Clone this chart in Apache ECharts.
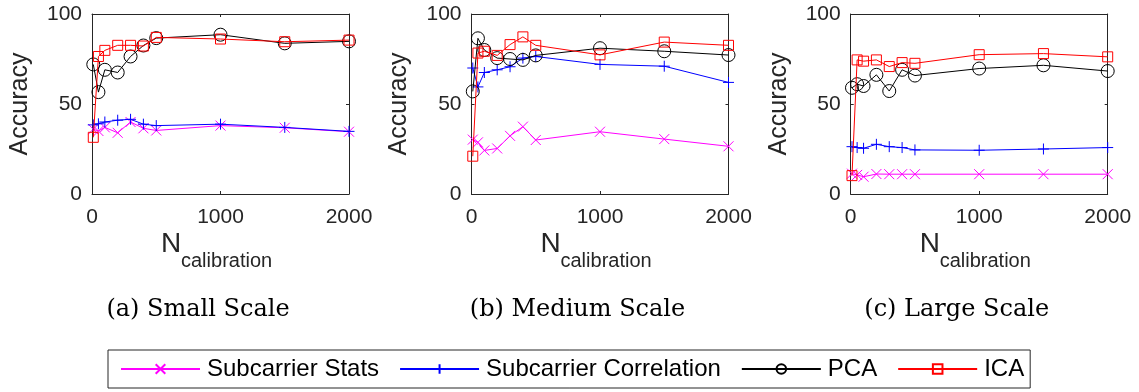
<!DOCTYPE html>
<html>
<head>
<meta charset="utf-8">
<script src="https://cdn.jsdelivr.net/npm/echarts@6/dist/echarts.min.js"></script>
<style>
html,body{margin:0;padding:0;background:#fff;}
#chart{width:1139px;height:392px;}
</style>
</head>
<body>
<div id="chart"></div>
<script>
// ---- data ----
const xValues = [10, 50, 100, 200, 300, 400, 500, 1000, 1500, 2000];
const xTicks = [0, 1000, 2000];
const yTicks = [0, 50, 100];
const seriesNames = ['Subcarrier Stats', 'Subcarrier Correlation', 'PCA', 'ICA'];
const captions = ['(a) Small Scale', '(b) Medium Scale', '(c) Large Scale'];

const smallStats = [36, 35, 37, 34, 40, 36.5, 35.3, 38, 36.8, 34.6];
const smallCorr  = [38.4, 39, 40, 41, 41.5, 38.8, 38, 38.8, 37, 34.8];
const smallPCA   = [72, 56.6, 69, 67.5, 76.4, 82.5, 86.6, 88.5, 83.7, 84.8];
const smallICA   = [31.5, 76.4, 79.8, 82.6, 82.6, 82.2, 87, 86.1, 84.6, 85.5];

const mediumStats = [30.2, 28.7, 24.2, 25.3, 32.3, 37.4, 30, 34.6, 30.5, 26.5];
const mediumCorr  = [70, 59.5, 67.5, 69, 70.7, 75.5, 76.4, 72, 71, 62];
const mediumPCA   = [57, 86.5, 80, 75.5, 75, 74.5, 77, 81, 79.3, 77.2];
const mediumICA   = [21, 78.3, 79.3, 77, 83, 87.3, 82.6, 77.3, 84.4, 82.6];

const largeStats = [11.3, 10.6, 9.6, 11.1, 11, 11, 11, 11, 11, 11];
const largeCorr  = [26.3, 25.8, 25.4, 27.6, 26.3, 25.8, 24.5, 24.3, 25, 25.8];
const largePCA   = [59, 61, 60, 66.2, 57.2, 69, 65.8, 69.7, 71.5, 68.3];
const largeICA   = [10.2, 74.5, 73.8, 74.5, 70.8, 73, 72.6, 77.4, 78, 76.2];

const panels = [
  [smallStats, smallCorr, smallPCA, smallICA],
  [mediumStats, mediumCorr, mediumPCA, mediumICA],
  [largeStats, largeCorr, largePCA, largeICA]
];

// ---- styling ----
const AX = '#262626';
const SANS = '"Liberation Sans", Arial, Helvetica, sans-serif';
const SERIF = '"DejaVu Serif", serif';
const gridLefts = [92, 471.5, 850.7];
const gridTop = 14, gridW = 257, gridH = 180;

const styles = [
  {color: '#FF00FF', symbol: 'path://M0,0L10,10M10,0L0,10', size: 10},
  {color: '#0000FF', symbol: 'path://M5,0L5,10M0,5L10,5', size: 11},
  {color: '#000000', symbol: 'circle', size: 13},
  {color: '#FF0000', symbol: 'rect', size: 10}
];

const grids = [], xAxes = [], yAxes = [], series = [], graphics = [];

function pairs(ys) { return xValues.map((x, i) => [x, ys[i]]); }
function plain(v) { return String(v); }

gridLefts.forEach((left, gi) => {
  grids.push({left: left, top: gridTop, width: gridW, height: gridH, show: false});
  const xBase = {
    type: 'value', gridIndex: gi, min: xTicks[0], max: xTicks[xTicks.length - 1],
    interval: xTicks[1] - xTicks[0],
    axisLine: {show: true, onZero: false, lineStyle: {color: AX, width: 1}},
    axisTick: {show: true, inside: true, length: 3, lineStyle: {color: AX}},
    splitLine: {show: false}
  };
  const yBase = {
    type: 'value', gridIndex: gi, min: yTicks[0], max: yTicks[yTicks.length - 1],
    interval: yTicks[1] - yTicks[0],
    axisLine: {show: true, onZero: false, lineStyle: {color: AX, width: 1}},
    axisTick: {show: true, inside: true, length: 3, lineStyle: {color: AX}},
    splitLine: {show: false}
  };
  xAxes.push(Object.assign({}, xBase, {
    position: 'bottom',
    axisLabel: {show: true, fontSize: 21, color: AX, fontFamily: SANS, margin: 13,
                formatter: plain, showMinLabel: true, showMaxLabel: true}
  }));
  xAxes.push(Object.assign({}, xBase, {position: 'top', axisLabel: {show: false}}));
  yAxes.push(Object.assign({}, yBase, {
    position: 'left',
    axisLabel: {show: true, fontSize: 21, color: AX, fontFamily: SANS, margin: 10,
                formatter: plain, showMinLabel: true, showMaxLabel: true}
  }));
  yAxes.push(Object.assign({}, yBase, {position: 'right', axisLabel: {show: false}}));

  panels[gi].forEach((vals, si) => {
    const st = styles[si];
    series.push({
      name: seriesNames[si], type: 'line',
      xAxisIndex: gi * 2, yAxisIndex: gi * 2,
      data: pairs(vals),
      symbol: st.symbol, symbolSize: st.size, showAllSymbol: true,
      lineStyle: {color: st.color, width: 1},
      itemStyle: {color: 'transparent', borderColor: st.color, borderWidth: 1},
      emphasis: {disabled: true},
      silent: true, z: 2 + si
    });
  });

  // axis titles and caption as text
  graphics.push({
    type: 'text', x: left - 72, y: gridTop + gridH / 2, rotation: Math.PI / 2,
    style: {text: 'Accuracy', fontSize: 25, fontFamily: SANS, fill: AX,
            align: 'center', verticalAlign: 'middle'}
  });
  graphics.push({
    type: 'text', x: left + 69, y: 244,
    style: {text: 'N', fontSize: 28, fontFamily: SANS, fill: AX,
            align: 'left', verticalAlign: 'middle'}
  });
  graphics.push({
    type: 'text', x: left + 89, y: 261,
    style: {text: 'calibration', fontSize: 20, fontFamily: SANS, fill: AX,
            align: 'left', verticalAlign: 'middle'}
  });
  graphics.push({
    type: 'text', x: left + 106, y: 310,
    style: {text: captions[gi], fontSize: 24, fontFamily: SERIF, fill: '#000',
            align: 'center', verticalAlign: 'middle'}
  });
});

const chart = echarts.init(document.getElementById('chart'), null, {renderer: 'canvas'});
chart.setOption({
  animation: false,
  backgroundColor: '#fff',
  grid: grids,
  xAxis: xAxes,
  yAxis: yAxes,
  series: series,
  graphic: graphics,
  legend: {
    data: seriesNames,
    left: 108, top: 350,
    orient: 'horizontal',
    padding: [7, 6, 7, 12],
    itemWidth: 79, itemHeight: 12, itemGap: 20,
    borderColor: AX, borderWidth: 1,
    selectedMode: false,
    textStyle: {fontSize: 24, fontFamily: SANS, color: '#000', padding: [0, 0, 0, 2]}
  }
});
</script>
</body>
</html>
